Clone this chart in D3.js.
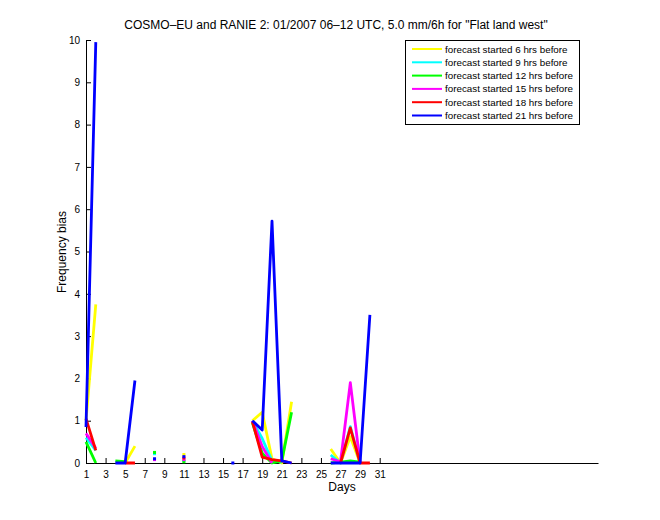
<!DOCTYPE html>
<html><head><meta charset="utf-8">
<script src="https://cdn.jsdelivr.net/npm/d3@7/dist/d3.min.js"></script>
<style>body{margin:0;background:#fff}svg{display:block}text{font-family:"Liberation Sans",Arial,Helvetica,sans-serif}</style>
</head><body>
<svg id="chart" width="660" height="520"></svg>
<script>
const days = d3.range(1, 32);
const xTicks = [1,3,5,7,9,11,13,15,17,19,21,23,25,27,29,31];
const yTicks = [0,1,2,3,4,5,6,7,8,9,10];
const seriesNames = ["forecast started 6 hrs before","forecast started 9 hrs before","forecast started 12 hrs before","forecast started 15 hrs before","forecast started 18 hrs before","forecast started 21 hrs before"];
const seriesColors = ["#ffff00","#00ffff","#00ff00","#ff00ff","#ff0000","#0000ff"];
const _ = null;
//            1     2    3  4    5    6    7  8     9  10 11    12 13 14 15 16   17 18    19    20    21    22    23 24 25 26    27    28    29    30    31
const s6  = [1.0, 3.75, _, _,   0.0, 0.4, _, _,    _, _, 0.2,  _, _, _, _, _,   _, 1.0,  1.2,  0.1,  0.0,  1.45, _, _, _, 0.33, 0.0,  0.62, 0.0,  _,    _];
const s9  = [0.6, 0.3,  _, _,   _,   _,   _, 0.22, _, _, 0.05, _, _, _, _, _,   _, 1.0,  0.58, 0.05, 0.02, _,    _, _, _, 0.19, 0.0,  0.86, 0.0,  _,    _];
const s12 = [0.5, 0.0,  _, 0.05,0.03,_,   _, 0.25, _, _, 0.03, _, _, _, _, _,   _, 0.95, 0.23, 0.0,  0.05, 1.2,  _, _, _, 0.0,  0.02, 0.05, 0.02, _,    _];
const s15 = [0.7, 0.35, _, _,   _,   _,   _, 0.08, _, _, 0.08, _, _, _, _, _,   _, 1.0,  0.39, 0.0,  _,    _,    _, _, _, 0.1,  0.03, 1.9,  0.0,  _,    _];
const s18 = [1.05,0.3,  _, _,   0.0, 0.0, _, _,    _, _, 0.12, _, _, _, _, _,   _, 0.98, 0.14, 0.08, 0.05, 0.0,  _, _, _, _,    0.0,  0.83, 0.0,  0.0,  _];
const s21 = [0.85,9.95, _, 0.0, 0.0, 1.95,_, 0.1,  _, _, 0.15, _, _, _, _, 0.0, _, 1.0,  0.78, 5.72, 0.05, 0.0,  _, _, _, 0.0,  0.0,  0.0,  0.0,  3.5,  _];
const seriesValues = [s6, s9, s12, s15, s18, s21];

const svg = d3.select("#chart");
const x = d3.scaleLinear().domain([1, 53.3]).range([86, 598]);
const y = d3.scaleLinear().domain([0, 10]).range([463, 40]);

// title
svg.append("text").attr("x", 336).attr("y", 29).attr("text-anchor", "middle")
  .attr("font-size", 12).text("COSMO\u2013EU and RANIE 2: 01/2007 06\u201312 UTC, 5.0 mm/6h for \"Flat land west\"");

// axes
const xAxis = d3.axisBottom(x).tickValues(xTicks).tickSizeInner(-5).tickSizeOuter(0).tickPadding(8).tickFormat(d3.format("d"));
const gx = svg.append("g").attr("transform", "translate(0,463)").call(xAxis);
const yAxis = d3.axisLeft(y).tickValues(yTicks).tickSizeInner(-5).tickSizeOuter(0).tickPadding(6).tickFormat(d3.format("d"));
const gy = svg.append("g").attr("transform", "translate(86,0)").call(yAxis);
[gx, gy].forEach(g => {
  g.selectAll("path.domain").attr("stroke", "#000").attr("stroke-width", 1);
  g.selectAll("line").attr("stroke", "#000");
  g.selectAll("text").attr("font-size", 10).attr("fill", "#000").attr("font-family", "\"Liberation Sans\",Arial,sans-serif");
});

svg.append("text").attr("x", 342).attr("y", 491).attr("text-anchor", "middle").attr("font-size", 12).text("Days");
svg.append("text").attr("transform", "translate(66,252) rotate(-90)").attr("text-anchor", "middle").attr("font-size", 12).text("Frequency bias");

// lines
const line = d3.line().defined(d => d[1] !== null).x(d => x(d[0])).y(d => y(d[1]));
seriesValues.forEach((vals, i) => {
  const pts = days.map((d, j) => [d, vals[j]]);
  svg.append("path").datum(pts).attr("fill", "none").attr("stroke", seriesColors[i])
    .attr("stroke-width", 2.8).attr("stroke-linejoin", "round").attr("d", line);
  // isolated points
  pts.forEach((p, j) => {
    if (p[1] === null) return;
    const prev = j > 0 ? vals[j-1] : null, next = j < vals.length-1 ? vals[j+1] : null;
    if (prev === null && next === null) {
      svg.append("rect").attr("x", x(p[0]) - 1.5).attr("y", y(p[1]) - 1.5).attr("width", 3).attr("height", 3).attr("fill", seriesColors[i]);
    }
  });
});

// legend
const lg = svg.append("g");
lg.append("rect").attr("x", 405.5).attr("y", 40.5).attr("width", 174).attr("height", 84).attr("fill", "#fff").attr("stroke", "#000");
seriesNames.forEach((n, i) => {
  const yy = 49 + i * 13.3;
  lg.append("line").attr("x1", 412).attr("x2", 442).attr("y1", yy).attr("y2", yy).attr("stroke", seriesColors[i]).attr("stroke-width", 2);
  lg.append("text").attr("x", 445).attr("y", yy + 3.5).attr("font-size", 9.8).text(n);
});
</script>
</body></html>
